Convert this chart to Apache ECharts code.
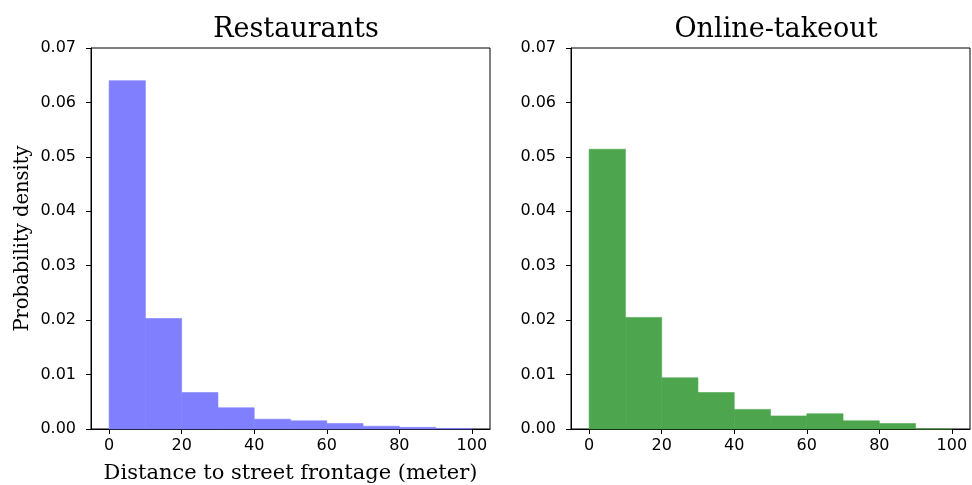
<!DOCTYPE html>
<html>
<head>
<meta charset="utf-8">
<script src="https://cdn.jsdelivr.net/npm/echarts@6/dist/echarts.min.js"></script>
<style>
  html, body { margin: 0; padding: 0; background: #fff; }
  #chart { width: 972px; height: 485px; }
</style>
</head>
<body>
<div id="chart"></div>
<script>
// Histogram bins: 10 m wide, 0..100 m
const binEdges = [0, 10, 20, 30, 40, 50, 60, 70, 80, 90, 100];
// Probability density per bin
const restaurantDensity = [0.0640, 0.0203, 0.0067, 0.0039, 0.0018, 0.0015, 0.0010, 0.0005, 0.0003, 0.0001];
const takeoutDensity    = [0.0514, 0.0205, 0.0094, 0.0067, 0.0036, 0.0024, 0.0028, 0.0015, 0.0010, 0.0000];
const panelTitles = ['Restaurants', 'Online-takeout'];
const xTicks = [0, 20, 40, 60, 80, 100];

const tickFont = { fontFamily: 'DejaVu Sans', fontSize: 16, color: '#000' };
const serif = 'DejaVu Serif';

function binData(values) {
  return values.map((v, i) => [binEdges[i], binEdges[i + 1], v]);
}

// One rectangle per bin, from the bin's left edge to its right edge, 0 up to the density
function histRender(color) {
  return function (params, api) {
    const p0 = api.coord([api.value(0), api.value(2)]);
    const p1 = api.coord([api.value(1), 0]);
    return {
      type: 'rect',
      shape: { x: p0[0], y: p0[1], width: p1[0] - p0[0], height: p1[1] - p0[1] },
      style: { fill: color, stroke: color, lineWidth: 0.6 }
    };
  };
}

function xAxisFor(idx, name) {
  return {
    type: 'value', gridIndex: idx, min: -5, max: 105,
    name: name, nameLocation: 'middle', nameGap: 34,
    nameTextStyle: { fontFamily: serif, fontSize: 21, color: '#000' },
    axisLine: { show: true, onZero: false, lineStyle: { color: '#000', width: 1 } },
    axisTick: { show: true, length: 5, inside: false, customValues: xTicks, lineStyle: { color: '#000' } },
    axisLabel: Object.assign({ margin: 9, customValues: xTicks }, tickFont),
    splitLine: { show: false }
  };
}

function yAxisFor(idx, name) {
  return {
    type: 'value', gridIndex: idx, min: 0, max: 0.07, interval: 0.01,
    name: name, nameLocation: 'middle', nameGap: 58,
    nameTextStyle: { fontFamily: serif, fontSize: 19.5, color: '#000' },
    axisLine: { show: true, onZero: false, lineStyle: { color: '#000', width: 1 } },
    axisTick: { show: true, length: 5, inside: false, lineStyle: { color: '#000' } },
    axisLabel: Object.assign({ margin: 15, formatter: v => v.toFixed(2) }, tickFont),
    splitLine: { show: false }
  };
}

const gridBase = {
  top: 48, width: 399, height: 381, show: true,
  borderColor: '#000', borderWidth: 1, backgroundColor: 'transparent',
  containLabel: false, outerBoundsMode: 'none'
};

const chart = echarts.init(document.getElementById('chart'), null, { renderer: 'canvas' });
chart.setOption({
  animation: false,
  backgroundColor: '#fff',
  title: [
    { text: panelTitles[0], left: 291, top: 11, textAlign: 'center',
      textStyle: { fontFamily: serif, fontSize: 27, fontWeight: 'normal', color: '#000' } },
    { text: panelTitles[1], left: 771, top: 11, textAlign: 'center',
      textStyle: { fontFamily: serif, fontSize: 27, fontWeight: 'normal', color: '#000' } }
  ],
  grid: [
    Object.assign({ left: 91 }, gridBase),
    Object.assign({ left: 571 }, gridBase)
  ],
  xAxis: [
    xAxisFor(0, 'Distance to street frontage (meter)'),
    xAxisFor(1, '')
  ],
  yAxis: [
    yAxisFor(0, 'Probability density'),
    yAxisFor(1, '')
  ],
  series: [
    { type: 'custom', xAxisIndex: 0, yAxisIndex: 0, renderItem: histRender('#8080ff'),
      encode: { x: [0, 1], y: 2 }, data: binData(restaurantDensity), z: 1 },
    { type: 'custom', xAxisIndex: 1, yAxisIndex: 1, renderItem: histRender('#4da64d'),
      encode: { x: [0, 1], y: 2 }, data: binData(takeoutDensity), z: 1 }
  ]
});
</script>
</body>
</html>
